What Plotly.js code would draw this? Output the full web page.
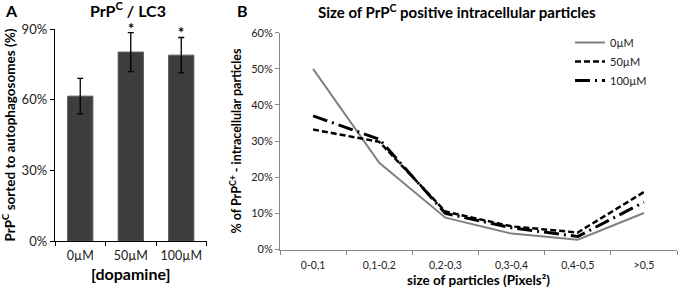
<!DOCTYPE html>
<html><head><meta charset="utf-8">
<script src="https://cdn.plot.ly/plotly-3.0.1.min.js"></script>
<style>body{margin:0;padding:0;background:#fff}#c{width:680px;height:288px}</style>
</head><body><div id="c"></div>
<script>
// Panel A data
const doseCats = ['0µM', '50µM', '100µM'];
const sortedPct = [0.615, 0.802, 0.789];
const sortedErr = [0.075, 0.083, 0.075];
const significant = [false, true, true];

// Panel B data
const sizeCats = ['0-0,1', '0,1-0,2', '0,2-0,3', '0,3-0,4', '0,4-0,5', '>0,5'];
const series0 = [0.50, 0.240, 0.088, 0.044, 0.027, 0.101];
const series50 = [0.332, 0.298, 0.105, 0.064, 0.047, 0.159];
const series100 = [0.370, 0.305, 0.100, 0.060, 0.036, 0.131];
const seriesNames = ['0µM', '50µM', '100µM'];

const FONT = 'Lato, "Open Sans", sans-serif';

const traces = [
  {
    type: 'bar', x: doseCats, y: sortedPct, xaxis: 'x', yaxis: 'y',
    marker: {color: '#3d3d3d', line: {color: '#5a5a5a', width: 1}},
    error_y: {type: 'data', array: sortedErr, visible: true, color: '#000', thickness: 1.3, width: 3},
    showlegend: false, hoverinfo: 'skip'
  },
  {
    type: 'scatter', mode: 'lines', x: sizeCats, y: series0, name: seriesNames[0],
    xaxis: 'x2', yaxis: 'y2', line: {color: '#808080', width: 2}
  },
  {
    type: 'scatter', mode: 'lines', x: sizeCats, y: series50, name: seriesNames[1],
    xaxis: 'x2', yaxis: 'y2', line: {color: '#000', width: 2.5, dash: '6px,3px'}
  },
  {
    type: 'scatter', mode: 'lines', x: sizeCats, y: series100, name: seriesNames[2],
    xaxis: 'x2', yaxis: 'y2', line: {color: '#000', width: 3, dash: '15px,5px,2px,5px'}
  }
];

const annotations = [];
doseCats.forEach((c, i) => {
  if (significant[i]) {
    annotations.push({x: c, y: sortedPct[i] + sortedErr[i], xref: 'x', yref: 'y',
      text: '<b>*</b>', showarrow: false, yanchor: 'bottom', yshift: -6,
      font: {family: FONT, size: 14.5, color: '#000'}});
  }
});
annotations.push(
  {x: 3/680, y: 1 - 11/288, xref: 'paper', yref: 'paper', text: '<b>A</b>', showarrow: false,
   xanchor: 'left', yanchor: 'middle', font: {family: FONT, size: 16, color: '#000'}},
  {x: 235/680, y: 1 - 11/288, xref: 'paper', yref: 'paper', text: '<b>B</b>', showarrow: false,
   xanchor: 'left', yanchor: 'middle', font: {family: FONT, size: 16, color: '#000'}},
  {x: 128/680, y: 1 - 10/288, xref: 'paper', yref: 'paper', text: '<b>PrP<sup>C</sup> / LC3</b>', showarrow: false,
   xanchor: 'center', yanchor: 'middle', font: {family: FONT, size: 16, color: '#000'}},
  {x: 457/680, y: 1 - 12/288, xref: 'paper', yref: 'paper', text: '<b>Size of PrP<sup>C</sup> positive intracellular particles</b>', showarrow: false,
   xanchor: 'center', yanchor: 'middle', font: {family: FONT, size: 15, color: '#000'}}
);

const layout = {
  width: 680, height: 288,
  margin: {l: 0, r: 0, t: 0, b: 0},
  paper_bgcolor: '#fff', plot_bgcolor: 'rgba(0,0,0,0)',
  font: {family: FONT, color: '#222'},
  bargap: 0.5,
  showlegend: true,
  legend: {x: 570/680, y: 1 - 28/288, xanchor: 'left', yanchor: 'top',
           font: {family: FONT, size: 11, color: '#222'}, bgcolor: 'rgba(0,0,0,0)',
           tracegroupgap: 0, itemwidth: 30},
  xaxis: {
    domain: [55/680, 206.5/680], anchor: 'y', type: 'category', range: [-0.5, 2.5],
    showline: true, linecolor: '#000', linewidth: 1.3,
    ticks: 'outside', tickson: 'boundaries', ticklen: 4, tickcolor: '#000',
    tickangle: 0,
    tickfont: {family: FONT, size: 12.5, color: '#222'}, ticklabelstandoff: 3,
    title: {text: '<b>[dopamine]</b>', font: {family: FONT, size: 16, color: '#000'}, standoff: 6},
    showgrid: false, zeroline: false, fixedrange: true
  },
  yaxis: {
    domain: [1 - 241/288, 1 - 29/288], anchor: 'x', range: [0, 0.9],
    tickvals: [0, 0.3, 0.6, 0.9], tickformat: '.0%',
    showline: true, linecolor: '#000', linewidth: 1.3,
    ticks: 'outside', ticklen: 4, tickcolor: '#000',
    tickfont: {family: FONT, size: 13, color: '#222'},
    title: {text: '<b>PrP<sup>C</sup> sorted to autophagosomes (%)</b>', font: {family: FONT, size: 13.5, color: '#000'}, standoff: 3},
    showgrid: false, zeroline: false, fixedrange: true
  },
  xaxis2: {
    domain: [280/680, 677/680], anchor: 'y2', type: 'category', range: [-0.5, 5.5],
    showline: true, linecolor: '#888', linewidth: 1,
    ticks: 'outside', tickson: 'boundaries', ticklen: 4, tickcolor: '#888',
    tickangle: 0,
    tickfont: {family: FONT, size: 10.5, color: '#222'}, ticklabelstandoff: 6,
    title: {text: '<b>size of particles (Pixels²)</b>', font: {family: FONT, size: 13.5, color: '#000'}, standoff: 5},
    showgrid: false, zeroline: false, fixedrange: true
  },
  yaxis2: {
    domain: [1 - 249.5/288, 1 - 32.7/288], anchor: 'x2', range: [0, 0.6],
    dtick: 0.1, tickformat: '.0%',
    showline: true, linecolor: '#888', linewidth: 1,
    ticks: 'outside', ticklen: 4, tickcolor: '#888',
    tickfont: {family: FONT, size: 11, color: '#222'},
    title: {text: '<b>% of PrP<sup>C+</sup> - intracellular particles</b>', font: {family: FONT, size: 12.5, color: '#000'}, standoff: 6},
    showgrid: false, zeroline: false, fixedrange: true
  },
  annotations: annotations
};

Plotly.newPlot('c', traces, layout, {staticPlot: true, displayModeBar: false});
</script></body></html>
